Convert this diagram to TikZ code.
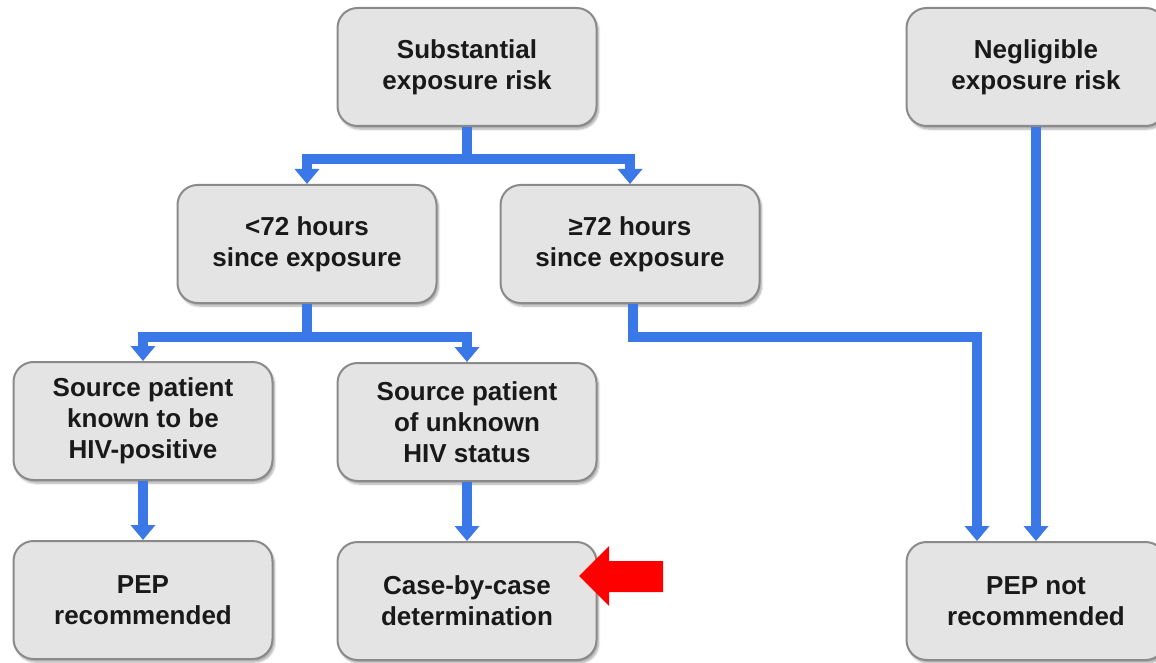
\documentclass[tikz,border=0pt]{standalone}
\usepackage{fontspec}
\setmainfont{Liberation Sans}
\usepackage{tikz}
\usetikzlibrary{arrows.meta,positioning,shadows.blur}
\usepackage{xcolor}
\definecolor{flowblue}{HTML}{3B78E7}
\definecolor{boxgray}{HTML}{E4E4E4}
\definecolor{edgegray}{HTML}{8A8A8A}

\begin{document}
\begin{tikzpicture}[x=1pt,y=1pt,>={Triangle[width=24pt,length=15pt]},node distance=179pt,
                    font=\fontsize{26}{31}\selectfont\bfseries]
  \tikzstyle{box}=[rectangle,rounded corners=20pt,draw=edgegray,line width=2pt,fill=boxgray,
                   minimum width=259pt,minimum height=118pt,align=center,text=black!90,
                   blur shadow={shadow xshift=2pt,shadow yshift=-3pt,shadow blur steps=6,shadow opacity=35}]
  \tikzstyle{flow}=[->,draw=flowblue,line width=10pt]
  \useasboundingbox (0,0) rectangle (1156,-663);

  \node[box] (sub)     at (467,-67)       {Substantial\\exposure risk};
  \node[box] (neg)     at (1036,-67)      {Negligible\\exposure risk};
  \node[box] (lt)      at (307,-244)      {<72 hours\\since exposure};
  \node[box] (ge)      at (630,-244)      {≥72 hours\\since exposure};
  \node[box] (known)   at (143,-421)      {Source patient\\known to be\\HIV-positive};
  \node[box] (unknown) at (467,-422)      {Source patient\\of unknown\\HIV status};
  \node[box] (rec)     [below of=known]   {PEP\\recommended};
  \node[box] (case)    [below of=unknown] {Case-by-case\\determination};
  \node[box] (notrec)  at (1036,-601)     {PEP not\\recommended};

  \draw[flow] (sub.south) -- ++(0,-32) -| (lt.north);
  \draw[flow] (sub.south) -- ++(0,-32) -| (ge.north);
  \draw[flow] (lt.south) -- ++(0,-33) -| (known.north);
  \draw[flow] (lt.south) -- ++(0,-33) -| (unknown.north);
  \draw[flow] ([xshift=3pt]ge.south) -- ++(0,-33) -| ([xshift=-59pt]notrec.north);
  \draw[flow] (neg.south) -- (notrec.north);
  \draw[flow] (known.south) -- (rec.north);
  \draw[flow] (unknown.south) -- (case.north);

  % pointer at the case-by-case box
  \fill[red] (579,-576) -- (609,-546) -- (609,-561) -- (663,-561) -- (663,-592)
             -- (609,-592) -- (609,-606) -- cycle;
\end{tikzpicture}
\end{document}
